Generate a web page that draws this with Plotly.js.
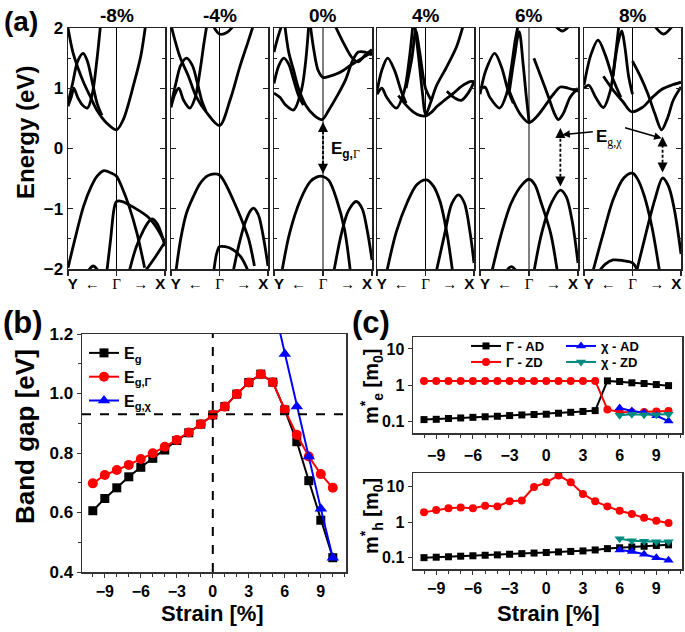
<!DOCTYPE html>
<html><head><meta charset="utf-8">
<script src="https://cdn.plot.ly/plotly-3.0.1.min.js"></script>
<style>html,body{margin:0;padding:0;background:#fff}#plot{width:685px;height:632px}</style>
</head><body><div id="plot"></div>
<script>
const W = 685, H = 632;
// ---------- panel (a): band structures, k from Y(0) through Gamma(0.5) to X(1) ----------
const panelTitles = ['-8%', '-4%', '0%', '4%', '6%', '8%'];
const kGamma = 0.5;
const bandsM8 = [
  [[0,0.08,0.16,0.24,0.3,0.365,0.45,0.5,0.56,0.63,0.71,0.79],[-1.98,-1.45,-0.96,-0.63,-0.46,-0.37,-0.41,-0.46,-0.66,-0.96,-1.4,-1.98]],
  [[0.4,0.44,0.475,0.5,0.56,0.68,0.82,0.92,1.0],[-2.05,-1.5,-1.0,-0.88,-0.88,-0.98,-1.13,-1.33,-1.57]],
  [[0.63,0.7,0.78,0.84,0.87,0.92,0.97,1.0],[-2.05,-1.65,-1.35,-1.2,-1.17,-1.25,-1.45,-1.62]],
  [[0.79,0.9,1.0],[-2.05,-1.8,-1.55]],
  [[0.2,0.26,0.32],[-2.05,-1.95,-2.05]],
  [[0,0.05,0.1,0.16,0.23,0.3,0.4,0.5,0.57,0.68,0.75,0.8],[2.0,1.6,1.35,1.1,0.86,0.63,0.42,0.31,0.48,1.08,1.53,2.05]],
  [[0,0.035,0.06,0.1,0.15,0.2,0.25,0.3,0.335],[0.7,0.86,1.0,0.85,0.72,0.67,0.9,1.5,2.05]],
  [[0,0.05,0.1,0.156,0.2,0.25,0.3,0.35],[0.75,1.1,1.45,1.58,1.45,1.1,0.75,0.55]]
];
const bandsM4 = [
  [[0.05,0.1,0.16,0.23,0.3,0.38,0.45,0.5,0.56,0.64,0.72,0.8,0.86],[-2.05,-1.5,-1.07,-0.8,-0.58,-0.45,-0.42,-0.44,-0.58,-0.85,-1.15,-1.5,-1.95]],
  [[0.44,0.47,0.5,0.56,0.64,0.72,0.8],[-2.05,-1.75,-1.63,-1.63,-1.68,-1.8,-2.05]],
  [[0.64,0.7,0.76,0.82,0.85,0.9,0.95,1.0],[-2.05,-1.6,-1.25,-1.03,-0.99,-1.1,-1.45,-1.95]],
  [[0,0.04,0.09,0.18,0.26,0.37,0.5,0.61,0.71,0.79,0.85],[2.05,1.8,1.53,1.2,0.86,0.59,0.38,0.81,1.36,1.75,2.05]],
  [[0,0.04,0.08,0.13,0.195,0.25,0.3,0.34,0.37],[0.68,0.9,1.0,0.8,0.67,0.85,1.3,1.75,2.05]],
  [[0,0.05,0.1,0.16,0.22,0.27,0.32,0.36],[0.72,1.08,1.38,1.5,1.38,1.1,0.78,0.62]],
  [[0.43,0.5,0.58,0.65],[2.05,1.9,1.93,2.05]]
];
const bandsP0 = [
  [[0.08,0.16,0.27,0.37,0.44,0.5,0.56,0.64,0.72,0.78],[-2.05,-1.4,-0.85,-0.55,-0.47,-0.465,-0.53,-0.85,-1.35,-2.05]],
  [[0.61,0.69,0.76,0.84,0.9,0.95,1.0],[-2.05,-1.4,-1.03,-0.88,-1.0,-1.35,-1.85]],
  [[0.11,0.15,0.2,0.25,0.33,0.41,0.49,0.56,0.64,0.73,0.8,0.86,0.93,1.0],[2.05,1.6,1.3,1.0,0.7,0.55,0.48,0.64,0.86,1.14,1.45,1.6,1.6,1.55]],
  [[0.37,0.41,0.45,0.5,0.57,0.64,0.71,0.78,0.85,0.92,1.0],[2.05,1.6,1.3,1.18,1.2,1.24,1.3,1.38,1.45,1.52,1.6]],
  [[0.62,0.71,0.8,0.86,0.93,1.0],[2.05,1.75,1.5,1.44,1.55,1.64]],
  [[0,0.06,0.12,0.2,0.28,0.32,0.355],[0.92,0.85,0.72,0.64,0.97,1.4,2.05]],
  [[0,0.05,0.1,0.15,0.2,0.25,0.3],[1.08,1.38,1.5,1.4,1.14,0.88,0.72]],
  [[0,0.04,0.08],[1.6,1.85,2.05]]
];
const bandsP4 = [
  [[0.1,0.2,0.31,0.41,0.51,0.58,0.65,0.72,0.78],[-2.05,-1.38,-0.9,-0.6,-0.52,-0.62,-0.88,-1.4,-2.05]],
  [[0.61,0.7,0.77,0.84,0.9,0.96,1.0],[-2.05,-1.4,-0.92,-0.77,-0.9,-1.4,-1.9]],
  [[0.22,0.3,0.38,0.44,0.5,0.56,0.62,0.68,0.79,0.87,0.96,1.0],[0.88,0.72,0.6,0.55,0.54,0.6,0.7,0.78,0.92,1.03,1.11,1.11]],
  [[0.39,0.43,0.47,0.5,0.55,0.61,0.72,0.82,0.89],[2.05,1.5,0.9,0.56,0.75,1.03,1.36,1.69,2.05]],
  [[0.72,0.8,0.87,0.94,1.0],[0.95,0.84,0.8,0.92,1.1]],
  [[0,0.05,0.1,0.2,0.28,0.33,0.37],[0.9,1.0,0.85,0.67,0.95,1.45,2.05]],
  [[0,0.05,0.11,0.18,0.25,0.3],[0.95,1.3,1.5,1.3,0.95,0.75]],
  [[0.3,0.36,0.4,0.44,0.5,0.56],[1.0,1.5,1.95,1.6,1.0,0.8]]
];
const bandsP6 = [
  [[0.12,0.22,0.32,0.43,0.5,0.56,0.62,0.72,0.79],[-2.05,-1.4,-0.9,-0.6,-0.51,-0.6,-0.88,-1.4,-2.05]],
  [[0.55,0.63,0.73,0.82,0.88,0.94,1.0],[-2.05,-1.4,-0.9,-0.69,-0.8,-1.2,-1.9]],
  [[0.26,0.32,0.38],[-2.05,-1.96,-2.05]],
  [[0.3,0.36,0.42,0.5,0.58,0.66,0.74,0.82,0.9,1.0],[0.95,0.72,0.55,0.43,0.53,0.7,0.88,1.02,1.0,0.95]],
  [[0.55,0.62,0.7,0.76,0.8,0.85,0.92,1.0],[1.5,1.2,0.85,0.58,0.48,0.58,0.85,1.0]],
  [[0,0.05,0.1,0.2,0.27,0.32,0.36,0.39],[0.98,1.02,0.85,0.67,0.9,1.35,1.8,2.05]],
  [[0,0.06,0.15,0.22,0.28,0.34],[0.9,1.3,1.58,1.35,1.0,0.75]],
  [[0.3,0.35,0.4,0.44,0.47,0.5],[0.95,1.5,1.94,1.4,0.9,0.45]],
  [[0.76,0.84,0.92],[2.05,1.95,2.05]]
];
const bandsP8 = [
  [[0.09,0.2,0.3,0.41,0.5,0.55,0.62,0.7,0.78],[-2.05,-1.4,-0.85,-0.49,-0.41,-0.5,-0.78,-1.3,-2.05]],
  [[0.54,0.64,0.73,0.81,0.87,0.93,1.0],[-2.05,-1.4,-0.85,-0.49,-0.62,-1.0,-1.75]],
  [[0.15,0.22,0.3,0.4,0.5,0.56],[-2.05,-1.92,-1.85,-1.86,-1.9,-2.05]],
  [[0.2,0.3,0.4,0.49,0.6,0.7,0.8,0.9,1.0],[1.2,0.97,0.78,0.61,0.68,0.84,0.98,1.05,1.1]],
  [[0.5,0.58,0.66,0.73,0.8,0.86,0.92,1.0],[1.45,1.2,0.9,0.58,0.31,0.5,0.8,1.02]],
  [[0,0.05,0.12,0.2,0.27,0.32,0.36],[1.0,1.05,0.85,0.68,0.95,1.5,2.05]],
  [[0,0.07,0.145,0.22,0.3,0.38],[1.05,1.55,1.8,1.55,1.15,0.85]],
  [[0.3,0.35,0.39,0.42,0.46,0.5],[1.2,1.75,1.95,1.7,1.2,0.9]],
  [[0.72,0.82,0.92],[2.05,1.9,2.05]]
];
const allBands = [bandsM8, bandsM4, bandsP0, bandsP4, bandsP6, bandsP8];
// gap arrows: panel index, k position, top and bottom energies
const gapPanel = [3, 5, 6];
const gapK = [0.5, 0.82, 0.81];
const gapTop = [0.44, 0.34, 0.2];
const gapBot = [-0.42, -0.63, -0.4];
const energyTicks = [-2, -1, 0, 1, 2];
const kTickText = ['Y', '←', '<span style="font-family:Liberation Serif;font-weight:normal">Γ</span>', '→', 'X'];

// ---------- panel (b) ----------
const strain = [-10,-9,-8,-7,-6,-5,-4,-3,-2,-1,0,1,2,3,4,5,6,7,8,9,10];
const gapEg      = [0.606,0.647,0.683,0.72,0.752,0.782,0.81,0.842,0.868,0.897,0.928,0.956,0.998,1.037,1.065,1.038,0.945,0.838,0.707,0.574,0.448];
const gapEgGamma = [0.698,0.726,0.743,0.76,0.78,0.799,0.821,0.844,0.869,0.897,0.928,0.956,0.998,1.037,1.065,1.038,0.945,0.861,0.788,0.729,0.683];
const strainChiGap = [5,6,7,8,9,10];
const gapEgChi = [1.31,1.133,0.956,0.788,0.613,0.448];
const refStrain = 0, refGap = 0.93;
const strainTicks = [-9,-6,-3,0,3,6,9];

// ---------- panel (c) ----------
const strainChi = [6,7,8,9,10];
const meGammaAD = [0.11,0.112,0.118,0.122,0.127,0.132,0.136,0.142,0.148,0.152,0.155,0.165,0.175,0.185,0.195,1.3,1.25,1.15,1.1,1.03,0.96];
const meGammaZD = [1.3,1.3,1.3,1.3,1.3,1.3,1.3,1.3,1.3,1.3,1.3,1.3,1.3,1.3,1.3,0.21,0.18,0.175,0.18,0.185,0.19];
const meChiAD = [0.23,0.19,0.17,0.14,0.1];
const meChiZD = [0.145,0.155,0.15,0.15,0.155];
const mhGammaAD = [0.1,0.103,0.106,0.11,0.113,0.117,0.12,0.125,0.13,0.135,0.14,0.145,0.15,0.155,0.165,0.18,0.19,0.2,0.21,0.22,0.23];
const mhGammaZD = [1.9,2.2,2.5,2.6,2.5,2.9,2.8,3.9,4.1,9.9,13.4,21,13.4,6.3,3.9,2.8,2.1,1.7,1.33,1.1,0.95];
const mhChiAD = [0.165,0.15,0.125,0.1,0.085];
const mhChiZD = [0.34,0.3,0.29,0.28,0.28];
const massTicks = [0.1, 1, 10];
const massTickText = ['0.1', '1', '10'];

// ---------- layout helpers ----------
const px = p => p / W;
const py = p => 1 - p / H;
const FONT = 'Liberation Sans, Arial, sans-serif';
const aLeft = [68, 171, 274, 377, 480, 584];
const aRight = [165, 268, 372, 474, 578, 681];

const data = [];
const layout = {
  width: W, height: H, margin: {l: 0, r: 0, t: 0, b: 0},
  paper_bgcolor: '#fff', plot_bgcolor: '#fff',
  font: {family: FONT, size: 16, color: '#000', weight: 'bold'},
  showlegend: true, shapes: [], annotations: []
};

allBands.forEach((bands, i) => {
  const n = i + 1, xa = n === 1 ? 'x' : 'x' + n, ya = n === 1 ? 'y' : 'y' + n;
  bands.forEach(b => data.push({
    type: 'scatter', mode: 'lines', x: b[0], y: b[1], xaxis: xa, yaxis: ya,
    line: {color: '#000', width: 2.8, shape: 'spline', smoothing: 0.9},
    showlegend: false, hoverinfo: 'skip'
  }));
  layout['xaxis' + (n === 1 ? '' : n)] = {
    domain: [px(aLeft[i]), px(aRight[i])], anchor: ya, range: [0, 1],
    showline: true, mirror: true, linecolor: '#222', linewidth: 1.5,
    showgrid: false, zeroline: false,
    tickmode: 'array', tickvals: [0.05, 0.25, 0.5, 0.75, 0.95], ticktext: kTickText,
    ticks: '', tickfont: {size: 15, family: FONT, weight: 'bold'},
    minor: {tickmode: 'array', tickvals: [0, 0.5, 1], ticks: 'outside', ticklen: 5, tickcolor: '#222', tickwidth: 1.2}
  };
  layout['yaxis' + (n === 1 ? '' : n)] = {
    domain: [py(269), py(28)], anchor: xa, range: [-2, 2],
    showline: true, mirror: 'allticks', linecolor: '#222', linewidth: 1.5,
    showgrid: false, zeroline: false,
    tickmode: 'array', tickvals: energyTicks, ticks: 'inside', ticklen: 5, tickcolor: '#222',
    showticklabels: n === 1, tickfont: {size: 17, family: FONT, weight: 'bold'},
    minor: {dtick: 0.5, ticks: 'inside', ticklen: 3, tickcolor: '#222'}
  };
  layout.shapes.push({type: 'line', xref: xa, yref: ya + ' domain', x0: kGamma, x1: kGamma, y0: 0, y1: 1,
    line: {color: '#000', width: 1}});
  layout.annotations.push({xref: xa + ' domain', yref: 'paper', x: 0.5, y: py(15), text: panelTitles[i],
    showarrow: false, font: {size: 19, family: FONT, weight: 'bold'}, xanchor: 'center', yanchor: 'middle'});
});

// gap arrows in panel (a)
gapPanel.forEach((p, j) => {
  const xa = 'x' + p, ya = 'y' + p;
  layout.shapes.push({type: 'line', xref: xa, yref: ya, x0: gapK[j], x1: gapK[j], y0: gapBot[j] + 0.08, y1: gapTop[j] - 0.08,
    line: {color: '#000', width: 1.8, dash: '3px,2px'}});
  layout.annotations.push({xref: xa, yref: ya, x: gapK[j], y: gapTop[j], ax: 0, ay: 7, text: '', showarrow: true,
    arrowhead: 2, arrowsize: 1, arrowwidth: 2, arrowcolor: '#000'});
  layout.annotations.push({xref: xa, yref: ya, x: gapK[j], y: gapBot[j], ax: 0, ay: -7, text: '', showarrow: true,
    arrowhead: 2, arrowsize: 1, arrowwidth: 2, arrowcolor: '#000'});
});
layout.annotations.push({xref: 'x3', yref: 'y3', x: 0.56, y: -0.02, xanchor: 'left', yanchor: 'middle',
  text: 'E<sub>g,<span style="font-family:Liberation Serif;font-weight:normal">Γ</span></sub>', showarrow: false,
  font: {size: 17, family: FONT, weight: 'bold'}});
layout.annotations.push({xref: 'x6', yref: 'y6', x: 0.1, y: 0.18, xanchor: 'left', yanchor: 'middle',
  text: 'E<sub><span style="font-family:Liberation Serif;font-weight:normal">g,χ</span></sub>', showarrow: false,
  font: {size: 17, family: FONT, weight: 'bold'}});
layout.annotations.push({xref: 'x5', yref: 'y5', x: 0.84, y: 0.23, ax: 32, ay: -3, text: '', showarrow: true,
  arrowhead: 2, arrowsize: 1, arrowwidth: 1.5, arrowcolor: '#000'});
layout.annotations.push({xref: 'x6', yref: 'y6', x: 0.8, y: 0.17, ax: -38, ay: -11, text: '', showarrow: true,
  arrowhead: 2, arrowsize: 1, arrowwidth: 1.5, arrowcolor: '#000'});

// ---------- panel (b) ----------
const ln = (c) => ({color: c, width: 2});
data.push({type: 'scatter', mode: 'lines+markers', x: strain, y: gapEg, xaxis: 'x7', yaxis: 'y7', name: 'E<sub>g</sub>',
  line: ln('#000'), marker: {symbol: 'square', size: 9, color: '#000'}, legend: 'legend'});
data.push({type: 'scatter', mode: 'lines+markers', x: strain, y: gapEgGamma, xaxis: 'x7', yaxis: 'y7',
  name: 'E<sub>g,Γ</sub>', line: ln('#ff0000'), marker: {symbol: 'circle', size: 10, color: '#ff0000'}, legend: 'legend'});
data.push({type: 'scatter', mode: 'lines+markers', x: strainChiGap, y: gapEgChi, xaxis: 'x7', yaxis: 'y7',
  name: 'E<sub>g,χ</sub>', line: ln('#0000ff'), marker: {symbol: 'triangle-up', size: 11, color: '#0000ff'}, legend: 'legend'});

const stAxis = (dom, anchor, standoff) => ({
  domain: dom, anchor: anchor, range: [-10.9, 11.1], showline: true, mirror: true, linecolor: '#333', linewidth: 1.5,
  showgrid: false, zeroline: false, tickmode: 'array', tickvals: strainTicks, ticks: 'outside', ticklen: 4,
  tickcolor: '#333', tickfont: {size: 16, family: FONT, weight: 'bold'}, ticklabelstandoff: standoff,
  minor: {dtick: 1, ticks: 'outside', ticklen: 3, tickcolor: '#333'}
});
layout.xaxis7 = stAxis([px(82), px(346)], 'y7', 0);
layout.yaxis7 = {domain: [py(572), py(334)], anchor: 'x7', range: [0.4, 1.2], showline: true, mirror: true,
  linecolor: '#333', linewidth: 1.5, showgrid: false, zeroline: false, dtick: 0.2, tickformat: '.1f',
  ticks: 'outside', ticklen: 4, tickcolor: '#333', tickfont: {size: 17, family: FONT, weight: 'bold'},
  minor: {dtick: 0.1, ticks: 'outside', ticklen: 3, tickcolor: '#333'}};
layout.shapes.push({type: 'line', xref: 'x7', yref: 'y7 domain', x0: refStrain, x1: refStrain, y0: 0, y1: 1,
  line: {color: '#000', width: 2, dash: 'dash'}});
layout.shapes.push({type: 'line', xref: 'x7 domain', yref: 'y7', x0: 0, x1: 1, y0: refGap, y1: refGap,
  line: {color: '#000', width: 2, dash: 'dash'}});
layout.legend = {x: px(84), y: py(336), xanchor: 'left', yanchor: 'top', bgcolor: 'rgba(0,0,0,0)',
  font: {size: 16, family: FONT, weight: 'bold'}, tracegroupgap: 0, itemwidth: 30};

// ---------- panel (c) ----------
const massSeries = [
  ['x8','y8',strain,meGammaAD,'#000','square',7,'Γ - AD','legend2',true],
  ['x8','y8',strain,meGammaZD,'#ff0000','circle',8,'Γ - ZD','legend3',true],
  ['x8','y8',strainChi,meChiAD,'#0000ff','triangle-up',9,'χ - AD','legend2',true],
  ['x8','y8',strainChi,meChiZD,'#008b80','triangle-down',9,'χ - ZD','legend3',true],
  ['x9','y9',strain,mhGammaAD,'#000','square',7,'Γ - AD','legend2',false],
  ['x9','y9',strain,mhGammaZD,'#ff0000','circle',8,'Γ - ZD','legend3',false],
  ['x9','y9',strainChi,mhChiAD,'#0000ff','triangle-up',9,'χ - AD','legend2',false],
  ['x9','y9',strainChi,mhChiZD,'#008b80','triangle-down',9,'χ - ZD','legend3',false]
];
massSeries.forEach(s => data.push({type: 'scatter', mode: 'lines+markers', xaxis: s[0], yaxis: s[1], x: s[2], y: s[3],
  line: ln(s[4]), marker: {symbol: s[5], size: s[6], color: s[4]}, name: s[7], legend: s[8], showlegend: s[9]}));

layout.xaxis8 = stAxis([px(413), px(682)], 'y8', 3);
layout.xaxis9 = stAxis([px(413), px(682)], 'y9', 0);
const massAxis = (dom, anchor, rng) => ({domain: dom, anchor: anchor, type: 'log', range: rng, showline: true, mirror: true,
  linecolor: '#333', linewidth: 1.5, showgrid: false, zeroline: false, tickmode: 'array', tickvals: massTicks,
  ticktext: massTickText, ticks: 'outside', ticklen: 4, tickcolor: '#333', tickfont: {size: 16, family: FONT, weight: 'bold'}});
layout.yaxis8 = massAxis([py(433), py(337)], 'x8', [-1.33, 1.33]);
layout.yaxis9 = massAxis([py(569), py(473)], 'x9', [-1.32, 1.39]);
layout.legend2 = {x: px(466), y: py(346), xanchor: 'left', yanchor: 'middle', orientation: 'h', bgcolor: 'rgba(0,0,0,0)',
  font: {size: 13, family: FONT, weight: 'bold'}, entrywidth: 50, itemwidth: 30};
layout.legend3 = {x: px(466), y: py(362), xanchor: 'left', yanchor: 'middle', orientation: 'h', bgcolor: 'rgba(0,0,0,0)',
  font: {size: 13, family: FONT, weight: 'bold'}, entrywidth: 50, itemwidth: 30};

// ---------- titles & panel letters ----------
const ann = (x, y, text, size, angle) => layout.annotations.push({xref: 'paper', yref: 'paper', x: px(x), y: py(y),
  text: text, showarrow: false, textangle: angle || 0, xanchor: 'center', yanchor: 'middle',
  font: {size: size, family: FONT, weight: 'bold', color: '#000'}});
ann(21, 22, '(a)', 28);
ann(23, 323, '(b)', 31);
ann(371, 323, '(c)', 31);
ann(25, 133, 'Energy (eV)', 24, -90);
ann(25, 437, 'Band gap [eV]', 26, -90);
ann(213, 613, 'Strain [%]', 22);
ann(548, 613, 'Strain [%]', 22);
ann(371, 386, 'm<sup>*</sup><sub>e</sub> [m<sub>0</sub>]', 20, -90);
ann(371, 516, 'm<sup>*</sup><sub>h</sub> [m<sub>0</sub>]', 20, -90);

Plotly.newPlot('plot', data, layout, {displayModeBar: false, staticPlot: true});
</script></body></html>
